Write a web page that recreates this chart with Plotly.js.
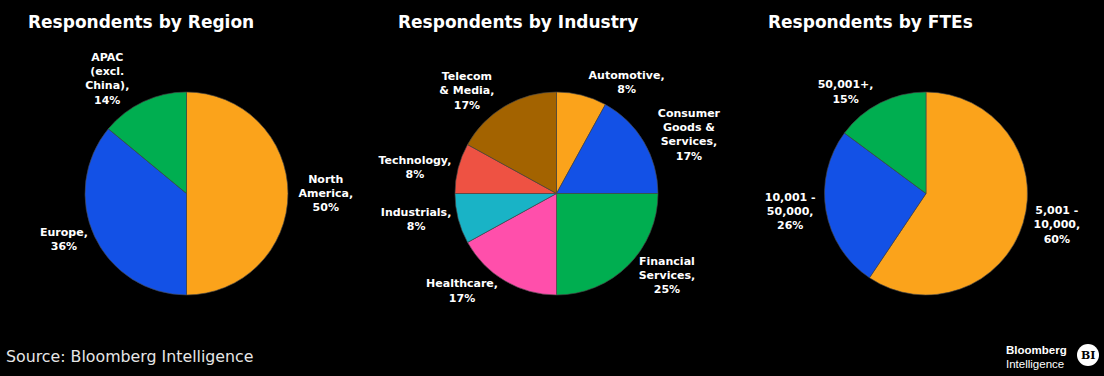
<!DOCTYPE html>
<html>
<head>
<meta charset="utf-8">
<script src="https://cdn.plot.ly/plotly-3.0.1.min.js"></script>
<style>
  html, body { margin: 0; padding: 0; background: #000; }
  #chart { width: 1104px; height: 376px; }
</style>
</head>
<body>
<div id="chart"></div>
<script>
// ---- Data ----
const chartTitles = ["Respondents by Region", "Respondents by Industry", "Respondents by FTEs"];

const regionLabels = ["North<br>America", "Europe", "APAC<br>(excl.<br>China)"];
const regionValues = [50, 36, 14];
const regionColors = ["#FBA31B", "#1351E6", "#00AE50"];

const industryLabels = ["Automotive", "Consumer<br>Goods &<br>Services", "Financial<br>Services", "Healthcare", "Industrials", "Technology", "Telecom<br>& Media"];
const industryValues = [8, 17, 25, 17, 8, 8, 17];
const industryColors = ["#FBA31B", "#1351E6", "#00AE50", "#FF4FAB", "#19B3C6", "#EE5243", "#A36300"];

const fteLabels = ["5,001 -<br>10,000", "10,001 -<br>50,000", "50,001+"];
const fteValues = [60, 26, 15];
const fteColors = ["#FBA31B", "#1351E6", "#00AE50"];

const sourceText = "Source: Bloomberg Intelligence";

// ---- Layout helpers ----
const W = 1104, H = 376;
function dom(cx, cy, r) {
  return { x: [(cx - r) / W, (cx + r) / W], y: [(H - cy - r) / H, (H - cy + r) / H] };
}
const labelFont = { family: "DejaVu Sans", size: 11, color: "#ffffff", weight: "bold" };

function pieTrace(labels, values, colors, domain) {
  return {
    type: "pie",
    labels: labels,
    values: values,
    sort: false,
    direction: "clockwise",
    rotation: 0,
    domain: domain,
    marker: { colors: colors, line: { color: "rgba(70,70,70,0.9)", width: 0.7 } },
    texttemplate: "<b>%{label},<br>%{value}%</b>",
    textposition: "outside",
    outsidetextfont: labelFont,
    textfont: labelFont,
    hoverinfo: "none",
    showlegend: false
  };
}

const data = [
  pieTrace(regionLabels, regionValues, regionColors, dom(186.5, 193.5, 101.5)),
  pieTrace(industryLabels, industryValues, industryColors, dom(556.5, 193.5, 101.5)),
  pieTrace(fteLabels, fteValues, fteColors, dom(926, 193.5, 101.5))
];

const titleX = [26, 396, 766];
const annotations = chartTitles.map((t, i) => ({
  text: "<b>" + t + "</b>",
  xref: "paper", yref: "paper",
  x: titleX[i] / W, y: (H - 22) / H,
  xanchor: "left", yanchor: "middle",
  showarrow: false,
  font: { family: "DejaVu Sans", size: 17, color: "#ffffff" }
}));
annotations.push({
  text: sourceText,
  xref: "paper", yref: "paper",
  x: 4 / W, y: (H - 356) / H,
  xanchor: "left", yanchor: "middle",
  showarrow: false,
  font: { family: "DejaVu Sans", size: 15.8, color: "#e6e6e6" }
});
annotations.push({
  text: "<b>Bloomberg</b>",
  xref: "paper", yref: "paper",
  x: 1004 / W, y: (H - 350) / H,
  xanchor: "left", yanchor: "middle",
  showarrow: false,
  font: { family: "Liberation Sans", size: 11.5, color: "#ffffff" }
});
annotations.push({
  text: "Intelligence",
  xref: "paper", yref: "paper",
  x: 1004 / W, y: (H - 364) / H,
  xanchor: "left", yanchor: "middle",
  showarrow: false,
  font: { family: "Liberation Sans", size: 11.5, color: "#ffffff" }
});
annotations.push({
  text: "<b>BI</b>",
  xref: "paper", yref: "paper",
  x: 1088 / W, y: (H - 355) / H,
  xanchor: "center", yanchor: "middle",
  showarrow: false,
  font: { family: "DejaVu Serif", size: 11, color: "#000000" }
});

const layout = {
  width: W, height: H,
  margin: { l: 0, r: 0, t: 0, b: 0 },
  paper_bgcolor: "#000000",
  plot_bgcolor: "#000000",
  showlegend: false,
  annotations: annotations,
  shapes: [{
    type: "circle", xref: "paper", yref: "paper",
    x0: 1077 / W, x1: 1099 / W, y0: (H - 366) / H, y1: (H - 344) / H,
    fillcolor: "#ffffff", line: { width: 0 }
  }]
};

Plotly.newPlot("chart", data, layout, { displayModeBar: false, staticPlot: true });
</script>
</body>
</html>
